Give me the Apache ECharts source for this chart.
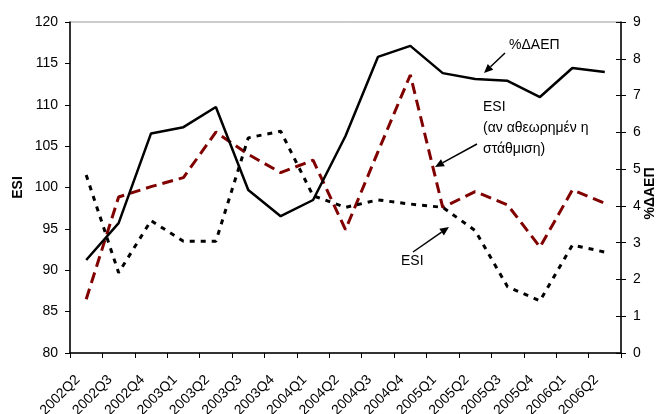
<!DOCTYPE html>
<html><head><meta charset="utf-8">
<script src="https://cdn.jsdelivr.net/npm/echarts@6/dist/echarts.min.js"></script>
<style>html,body{margin:0;padding:0;background:#fff}#c{width:666px;height:414px}</style>
</head><body><div id="c"></div>
<script>
const categories = ['2002Q2','2002Q3','2002Q4','2003Q1','2003Q2','2003Q3','2003Q4','2004Q1','2004Q2','2004Q3','2004Q4','2005Q1','2005Q2','2005Q3','2005Q4','2006Q1','2006Q2'];
const gdpGrowth = [2.53,3.53,5.97,6.14,6.69,4.43,3.72,4.16,5.90,8.05,8.35,7.61,7.45,7.40,6.96,7.75,7.64];
const esiRevised = [86.5,98.85,100.1,101.2,106.7,104.0,101.8,103.3,94.9,104.3,113.6,97.6,99.5,97.9,92.8,99.7,98.1];
const esi = [101.5,89.7,96.0,93.5,93.5,106.0,106.8,99.0,97.6,98.5,98.0,97.6,94.8,88.0,86.3,93.05,92.2];
const leftTicks = {min:80,max:120,interval:5};
const rightTicks = {min:0,max:9,interval:1};

const FONT = 'Liberation Sans, Arial, sans-serif';
function arrow(x1,y1,x2,y2){
  const dx=x2-x1, dy=y2-y1, L=Math.hypot(dx,dy), ux=dx/L, uy=dy/L;
  const hl=9, hw=4;
  const bx=x2-ux*hl, by=y2-uy*hl;
  return [
    {type:'line',shape:{x1:x1,y1:y1,x2:bx,y2:by},style:{stroke:'#000',lineWidth:1.5}},
    {type:'polygon',shape:{points:[[x2,y2],[bx-uy*hw,by+ux*hw],[bx+uy*hw,by-ux*hw]]},style:{fill:'#000'}}
  ];
}
const chart = echarts.init(document.getElementById('c'));
chart.setOption({
  animation:false,
  backgroundColor:'#fff',
  textStyle:{fontFamily:FONT},
  grid:{left:70,right:45,top:22,bottom:61,containLabel:false,outerBoundsMode:'none',show:true,borderColor:'#999',borderWidth:1},
  xAxis:{type:'category',data:categories,boundaryGap:true,
    axisLine:{lineStyle:{color:'#000',width:1.5}},
    axisTick:{show:true,length:5,lineStyle:{color:'#000'}},
    axisLabel:{interval:0,rotate:45,fontSize:14,color:'#000',margin:16,padding:[0,12,0,0],fontFamily:FONT}},
  yAxis:[
    {type:'value',position:'left',min:leftTicks.min,max:leftTicks.max,interval:leftTicks.interval,
     name:'ESI',nameLocation:'middle',nameRotate:90,nameGap:45,nameMoveOverlap:false,
     nameTextStyle:{fontWeight:'bold',fontSize:14,color:'#000',fontFamily:FONT},
     axisLine:{show:true,lineStyle:{color:'#000',width:1.5}},
     axisTick:{show:true,length:5,lineStyle:{color:'#000'}},
     axisLabel:{fontSize:14,color:'#000',margin:12,fontFamily:FONT},
     splitLine:{show:false}},
    {type:'value',position:'right',min:rightTicks.min,max:rightTicks.max,interval:rightTicks.interval,
     name:'%ΔΑΕΠ',nameLocation:'middle',nameRotate:90,nameGap:22,nameMoveOverlap:false,
     nameTextStyle:{fontWeight:'bold',fontSize:14,color:'#000',fontFamily:FONT,padding:[0,12,0,0]},
     axisLine:{show:true,lineStyle:{color:'#000',width:1.5}},
     axisTick:{show:true,length:5,lineStyle:{color:'#000'}},
     axisLabel:{fontSize:14,color:'#000',margin:12,fontFamily:FONT},
     splitLine:{show:false}},
    {type:'value',position:'right',min:rightTicks.min,max:rightTicks.max,interval:rightTicks.interval,
     axisLine:{show:false},
     axisTick:{show:true,inside:true,length:5,lineStyle:{color:'#000'}},
     axisLabel:{show:false},splitLine:{show:false}}
  ],
  series:[
    {name:'ESI (αναθεωρημένη στάθμιση)',type:'line',yAxisIndex:0,data:esiRevised,symbol:'none',
     lineStyle:{color:'#800000',width:3,type:[11,6]}},
    {name:'ESI',type:'line',yAxisIndex:0,data:esi,symbol:'none',
     lineStyle:{color:'#000',width:3,type:[5,6]}},
    {name:'%ΔΑΕΠ',type:'line',yAxisIndex:1,data:gdpGrowth,symbol:'none',
     lineStyle:{color:'#000',width:2.5}}
  ],
  graphic:[
    {type:'text',left:509,top:38,style:{text:'%ΔΑΕΠ',font:'14px '+FONT,fill:'#000'}},
    ...arrow(505,53,484,73),
    {type:'text',left:483,top:100,style:{text:'ESI',font:'14px '+FONT,fill:'#000'}},
    {type:'text',left:483,top:121,style:{text:'(αν αθεωρημέν η',font:'14px '+FONT,fill:'#000'}},
    {type:'text',left:483,top:142,style:{text:'στάθμιση)',font:'14px '+FONT,fill:'#000'}},
    ...arrow(477,144,435,167),
    {type:'text',left:401,top:254,style:{text:'ESI',font:'14px '+FONT,fill:'#000'}},
    ...arrow(413,252,449,227)
  ]
});
</script></body></html>
